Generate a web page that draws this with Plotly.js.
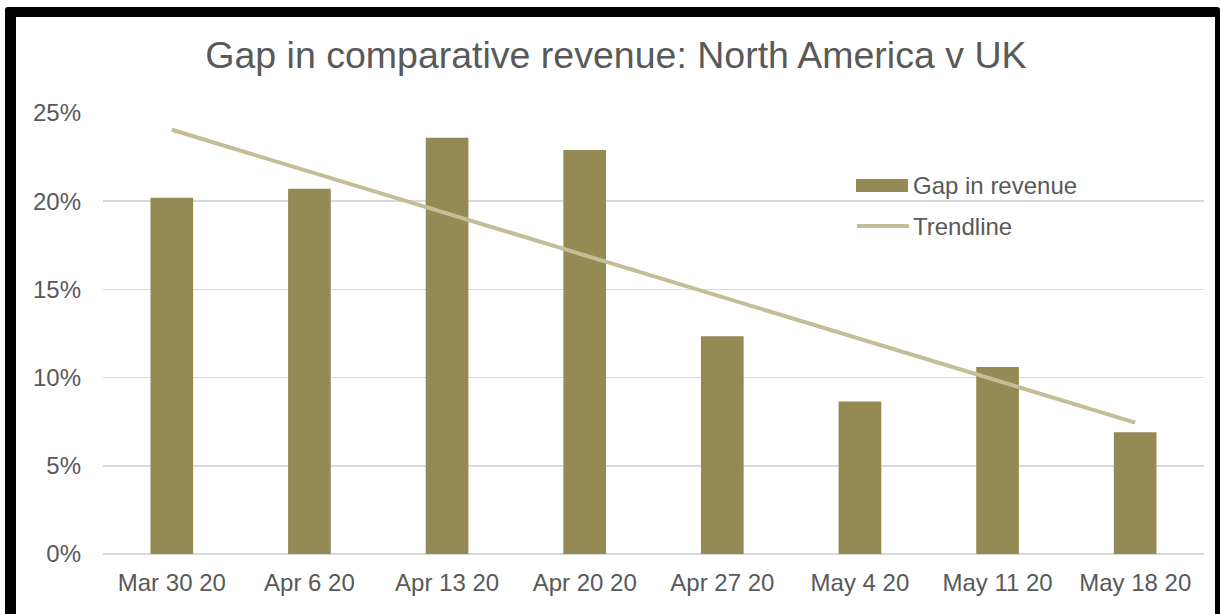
<!DOCTYPE html>
<html>
<head>
<meta charset="utf-8">
<script src="https://cdn.plot.ly/plotly-3.0.1.min.js"></script>
<style>
html,body{margin:0;padding:0;background:#fff;}
#wrap{position:relative;width:1222px;height:614px;overflow:hidden;}
#chart{position:absolute;left:0;top:0;width:1222px;height:614px;}
#frame{position:absolute;left:5px;top:7px;width:1199px;height:603px;border-style:solid;border-color:#000;border-width:10px 5px 4px 11px;border-radius:3px;pointer-events:none;}
</style>
</head>
<body>
<div id="wrap"><div id="chart"></div><div id="frame"></div></div>
<script>
const categories = ['Mar 30 20','Apr 6 20','Apr 13 20','Apr 20 20','Apr 27 20','May 4 20','May 11 20','May 18 20'];
const gapInRevenue = [20.2, 20.7, 23.6, 22.9, 12.35, 8.65, 10.6, 6.9];
const trendCategories = ['Mar 30 20','May 18 20'];
const trendline = [24.05, 7.45];
const yTicks = [0, 5, 10, 15, 20, 25];
const yTickLabels = ['0%','5%','10%','15%','20%','25%'];
const legendLabels = ['Gap in revenue','Trendline'];

const barColor = '#948A54';
const trendColor = '#C4BD97';
const textColor = '#595959';
const font = 'Arial, "Liberation Sans", sans-serif';

// plot area in pixels
const L = 103, R = 1204, T = 113, B = 554;
const px = p => (p - L) / (R - L);
const py = p => (B - p) / (B - T);

const traces = [
  {type:'bar', x:categories, y:gapInRevenue, name:legendLabels[0],
   marker:{color:barColor}, hoverinfo:'x+y'},
  {type:'scatter', mode:'lines', x:trendCategories, y:trendline, name:legendLabels[1],
   line:{color:trendColor, width:4}}
];

const layout = {
  width:1222, height:614,
  margin:{l:L, r:1222-R, t:T, b:614-B, pad:0},
  paper_bgcolor:'#fff', plot_bgcolor:'#fff',
  showlegend:false,
  bargap:0.69,
  font:{family:font, color:textColor, size:24},
  title:{text:'Gap in comparative revenue: North America v UK',
    font:{family:font, size:37.5, color:textColor},
    x:0.504, xanchor:'center', y:(614-55)/614, yanchor:'middle', yref:'container'},
  xaxis:{type:'category', categoryorder:'array', categoryarray:categories,
    showgrid:false, showline:false, zeroline:false, ticks:'',
    tickfont:{family:font, size:24, color:textColor}, ticklabelstandoff:12},
  yaxis:{range:[0,25], tickvals:yTicks, ticktext:yTickLabels,
    showgrid:true, gridcolor:'#d9d9d9', gridwidth:1.5,
    zeroline:true, zerolinecolor:'#d9d9d9', zerolinewidth:1.5,
    showline:false, ticks:'',
    tickfont:{family:font, size:24, color:textColor}, ticklabelstandoff:21},
  shapes:[
    {type:'rect', xref:'paper', yref:'paper', x0:px(856), x1:px(908), y0:py(192), y1:py(179),
     fillcolor:barColor, line:{width:0}},
    {type:'line', xref:'paper', yref:'paper', x0:px(857), x1:px(909), y0:py(226), y1:py(226),
     line:{color:trendColor, width:4}}
  ],
  annotations:[
    {xref:'paper', yref:'paper', x:px(911), y:py(185), xanchor:'left', yanchor:'middle',
     text:legendLabels[0], showarrow:false, font:{family:font, size:24, color:textColor}},
    {xref:'paper', yref:'paper', x:px(911), y:py(226), xanchor:'left', yanchor:'middle',
     text:legendLabels[1], showarrow:false, font:{family:font, size:24, color:textColor}}
  ]
};

Plotly.newPlot('chart', traces, layout, {displayModeBar:false, staticPlot:true});
</script>
</body>
</html>
